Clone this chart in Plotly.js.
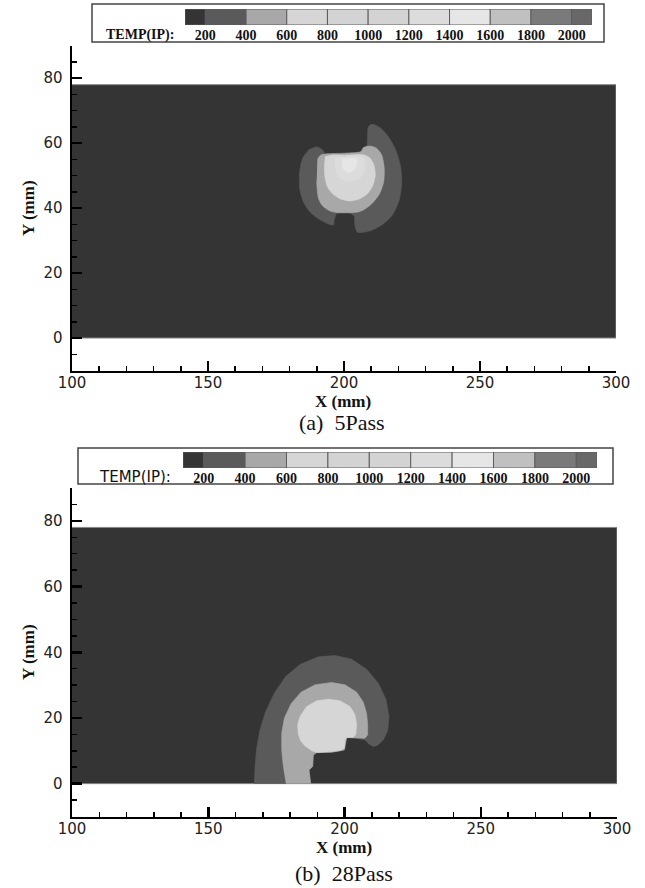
<!DOCTYPE html>
<html><head><meta charset="utf-8">
<script src="https://cdn.plot.ly/plotly-3.0.1.min.js"></script>
<style>html,body{margin:0;padding:0;background:#fff}#chart{width:645px;height:888px}</style>
</head><body><div id="chart"></div>
<script>
// ---------- colour legend (TEMP(IP)) ----------
const legendEdges  = [100,200,400,600,800,1000,1200,1400,1600,1800,2000,2100];
const legendTicks  = [200,400,600,800,1000,1200,1400,1600,1800,2000];
const legendColors = ['#343434','#5a5a5a','#a8a8a8','#d6d6d6','#d3d3d3','#d3d3d3','#dcdcdc','#e6e6e6','#c0c0c0','#7a7a7a','#686868'];

// ---------- plate (X 100-300 mm, Y 0-78 mm) ----------
const plateX = [100,300,300,100];
const plateY = [0,0,78,78];

// ---------- (a) 5 Pass contour regions ----------
const p5_band1_x = [186.9,189.95,192.0,193.3,195.5,200.4,205.9,207.1,208.3,208.7,208.95,210.4,213.2,216.3,219.0,220.8,221.2,220.3,217.8,213.85,209.6,205.0,204.0,203.8,202.2,199.1,197.3,196.4,196.1,193.0,189.95,187.1,185.05,183.8,183.6,184.1,185.05];
const p5_band1_y = [57.9,58.84,58.0,56.4,55.9,56.0,56.3,58.4,58.9,62.5,65.1,65.8,64.8,62.0,57.9,52.8,47.6,42.5,37.9,34.8,33.0,32.55,34.8,37.4,38.5,38.6,38.3,36.35,34.8,35.6,37.07,39.2,42.0,45.6,49.7,53.3,55.9];
const p5_band2_x = [190.2,191.2,193.6,200.4,206.25,207.1,209.6,212.0,213.85,214.8,214.6,213.2,210.4,207.1,204.65,197.9,194.85,192.0,190.6,189.95];
const p5_band2_y = [54.8,56.2,56.7,56.9,57.4,58.6,59.1,58.4,56.4,52.3,48.2,44.6,41.5,39.4,38.7,38.6,39.1,40.8,43.0,48.2];
const p5_band3_x = [193.0,195.5,200.4,205.9,207.7,209.6,211.0,211.5,210.6,208.6,205.6,202.2,198.8,195.8,193.8,192.9,192.8];
const p5_band3_y = [55.8,56.3,56.3,56.5,56.3,55.35,53.3,50.2,47.0,44.4,42.8,42.2,42.8,44.4,46.8,50.2,53.8];
const p5_band4_x = [196.7,207.1,207.7,205.9,202.2,198.5,196.7];
const p5_band4_y = [55.35,55.6,52.3,49.2,48.2,49.2,52.3];
const p5_band5_x = [199.1,204.65,204.3,201.8,199.4];
const p5_band5_y = [55.1,55.1,52.3,51.0,52.3];

// ---------- (b) 28 Pass contour regions ----------
const p28_band1_x = [166.9,167.16,167.77,168.99,171.07,174.25,178.41,183.67,190.4,196.52,202.63,208.14,212.42,215.23,216.33,215.85,214.25,212.17,210.58,208.99,207.53,203.86,200.8,199.94,195.29,189.79,188.57,188.32,186.98,187.6];
const p28_band1_y = [0,5.19,10.78,16.37,21.96,27.55,32.63,36.3,38.6,39.0,37.9,34.8,30.6,25.6,20.4,16.17,13.32,11.7,11.29,12.1,13.32,13.93,14.03,10.27,9.56,9.46,8.75,5.19,4.18,0];
const p28_band2_x = [178.6,177.56,176.95,176.95,177.92,180.37,184.04,189.18,195.29,200.19,204.47,206.9,208.14,208.5,208.5,207.53,203.86,200.8,199.94,195.29,189.79,188.57,188.32,186.98,187.6];
const p28_band2_y = [0,5.19,10.27,15.35,19.93,24.3,27.85,30.09,30.8,30.09,27.85,24.81,21.25,17.9,14.85,13.83,13.93,14.03,10.27,9.56,9.46,8.75,5.19,4.18,0];
const p28_band3_x = [183.06,182.82,183.67,186.12,189.79,194.07,198.35,202.02,203.86,204.47,204.1,203.25,200.8,200.19,199.94,198.35,195.29,189.79,187.95,185.5,183.67];
const p28_band3_y = [14.85,17.9,20.44,23.48,25.21,25.72,25.21,23.48,20.94,17.9,14.85,14.14,14.03,13.32,10.78,10.07,9.77,9.46,10.07,11.49,13.32];

const SANS = 'DejaVu Sans, Arial, sans-serif';
const SERIF = 'Liberation Serif, Times New Roman, serif';
const W = 645, H = 888;

function poly(xs, ys, color, xa, ya, shape, lineColor, lw){
  return {type:'scatter', mode:'lines', x:xs, y:ys, fill:'toself', fillcolor:color,
    line:{color:lineColor||color, width:lw===undefined?0.6:lw, shape:shape||'linear', smoothing:0.7},
    xaxis:xa, yaxis:ya, hoverinfo:'skip', showlegend:false};
}

const traces = [
  poly(plateX, plateY, legendColors[0], 'x', 'y', 'linear', '#858585', 1),
  poly(p5_band1_x, p5_band1_y, legendColors[1], 'x', 'y', 'spline'),
  poly(p5_band2_x, p5_band2_y, legendColors[2], 'x', 'y', 'spline'),
  poly(p5_band3_x, p5_band3_y, legendColors[3], 'x', 'y', 'spline'),
  poly(p5_band4_x, p5_band4_y, legendColors[6], 'x', 'y', 'spline'),
  poly(p5_band5_x, p5_band5_y, legendColors[7], 'x', 'y', 'spline'),
  poly(plateX, plateY, legendColors[0], 'x2', 'y2', 'linear', '#858585', 1),
  poly(p28_band1_x, p28_band1_y, legendColors[1], 'x2', 'y2'),
  poly(p28_band2_x, p28_band2_y, legendColors[2], 'x2', 'y2'),
  poly(p28_band3_x, p28_band3_y, legendColors[3], 'x2', 'y2')
];

const cellCenters = legendEdges.slice(0,-1).map((e,i)=>(e+legendEdges[i+1])/2);
const cellWidths  = legendEdges.slice(0,-1).map((e,i)=>legendEdges[i+1]-e);
['x3','x4'].forEach((xa,k)=>{
  traces.push({type:'bar', x:cellCenters, y:cellCenters.map(()=>1), width:cellWidths,
    marker:{color:legendColors, line:{color:'#5c5c5c', width:1}},
    xaxis:xa, yaxis:k?'y4':'y3', hoverinfo:'skip', showlegend:false});
});

function mainX(dom, anchor){
  return {domain:dom, anchor:anchor, range:[100,300], tick0:100, dtick:50,
    ticks:'inside', ticklen:10, tickwidth:2.5, tickcolor:'#000',
    showline:true, linewidth:2.5, linecolor:'#000', showgrid:false, zeroline:false,
    tickfont:{family:SANS, size:15, color:'#222'}, ticklabelstandoff:-3,
    minor:{tick0:100, dtick:10, ticks:'inside', ticklen:5, tickwidth:1.5, tickcolor:'#000', showgrid:false},
    fixedrange:true};
}
function mainY(dom, anchor){
  return {domain:dom, anchor:anchor, range:[-10,90], tick0:0, dtick:20,
    ticks:'inside', ticklen:10, tickwidth:2.5, tickcolor:'#000',
    showline:true, linewidth:2.5, linecolor:'#000', showgrid:false, zeroline:false,
    tickfont:{family:SANS, size:15, color:'#222'}, ticklabelstandoff:4,
    minor:{tick0:0, dtick:5, ticks:'inside', ticklen:5, tickwidth:1.5, tickcolor:'#000', showgrid:false},
    fixedrange:true};
}
function legX(dom, anchor){
  return {domain:dom, anchor:anchor, range:[100,2100], tickmode:'array', tickvals:legendTicks,
    ticktext:legendTicks.map(String), ticks:'', showline:false, showgrid:false, zeroline:false,
    tickfont:{family:SERIF, size:14, color:'#111', weight:'bold'}, ticklabelstandoff:0, fixedrange:true};
}
function legY(dom, anchor){
  return {domain:dom, anchor:anchor, range:[0,1], visible:false, fixedrange:true};
}

const px = v => v/W, py = v => 1 - v/H;

const layout = {
  width:W, height:H, margin:{l:0,r:0,t:0,b:0}, paper_bgcolor:'#fff', plot_bgcolor:'#fff',
  showlegend:false, hovermode:false, bargap:0,
  xaxis: mainX([px(72), px(616)], 'y'),
  yaxis: mainY([py(370.5), py(45.7)], 'x'),
  xaxis2: mainX([px(72), px(617)], 'y2'),
  yaxis2: mainY([py(816.5), py(488)], 'x2'),
  xaxis3: legX([px(185), px(592)], 'y3'),
  yaxis3: legY([py(25), py(9)], 'x3'),
  xaxis4: legX([px(183), px(597)], 'y4'),
  yaxis4: legY([py(468), py(452)], 'x4'),
  shapes:[
    {type:'rect', xref:'paper', yref:'paper', x0:px(92), x1:px(604), y0:py(42), y1:py(4), line:{color:'#444', width:1.5}},
    {type:'rect', xref:'paper', yref:'paper', x0:px(78), x1:px(613), y0:py(484), y1:py(448), line:{color:'#444', width:1.5}}
  ],
  annotations:[
    {text:'TEMP(IP):', xref:'paper', yref:'paper', x:px(176), y:py(35), xanchor:'right', yanchor:'middle', showarrow:false, font:{family:SERIF, size:14, color:'#111', weight:'bold'}},
    {text:'TEMP(IP):', xref:'paper', yref:'paper', x:px(173), y:py(477), xanchor:'right', yanchor:'middle', showarrow:false, font:{family:SANS, size:15, color:'#111'}},
    {text:'<b>X (mm)</b>', xref:'paper', yref:'paper', x:px(343), y:py(401), xanchor:'center', yanchor:'middle', showarrow:false, font:{family:SERIF, size:17, color:'#111'}},
    {text:'<b>X (mm)</b>', xref:'paper', yref:'paper', x:px(344), y:py(847), xanchor:'center', yanchor:'middle', showarrow:false, font:{family:SERIF, size:17, color:'#111'}},
    {text:'<b>Y (mm)</b>', xref:'paper', yref:'paper', x:px(28), y:py(208), xanchor:'center', yanchor:'middle', textangle:-90, showarrow:false, font:{family:SERIF, size:17, color:'#111'}},
    {text:'<b>Y (mm)</b>', xref:'paper', yref:'paper', x:px(28), y:py(652), xanchor:'center', yanchor:'middle', textangle:-90, showarrow:false, font:{family:SERIF, size:17, color:'#111'}},
    {text:'(a)  5Pass', xref:'paper', yref:'paper', x:px(342), y:py(423), xanchor:'center', yanchor:'middle', showarrow:false, font:{family:SERIF, size:22, color:'#111'}},
    {text:'(b)  28Pass', xref:'paper', yref:'paper', x:px(344), y:py(873), xanchor:'center', yanchor:'middle', showarrow:false, font:{family:SERIF, size:22, color:'#111'}}
  ]
};

Plotly.newPlot('chart', traces, layout, {staticPlot:true, displayModeBar:false});
</script></body></html>
